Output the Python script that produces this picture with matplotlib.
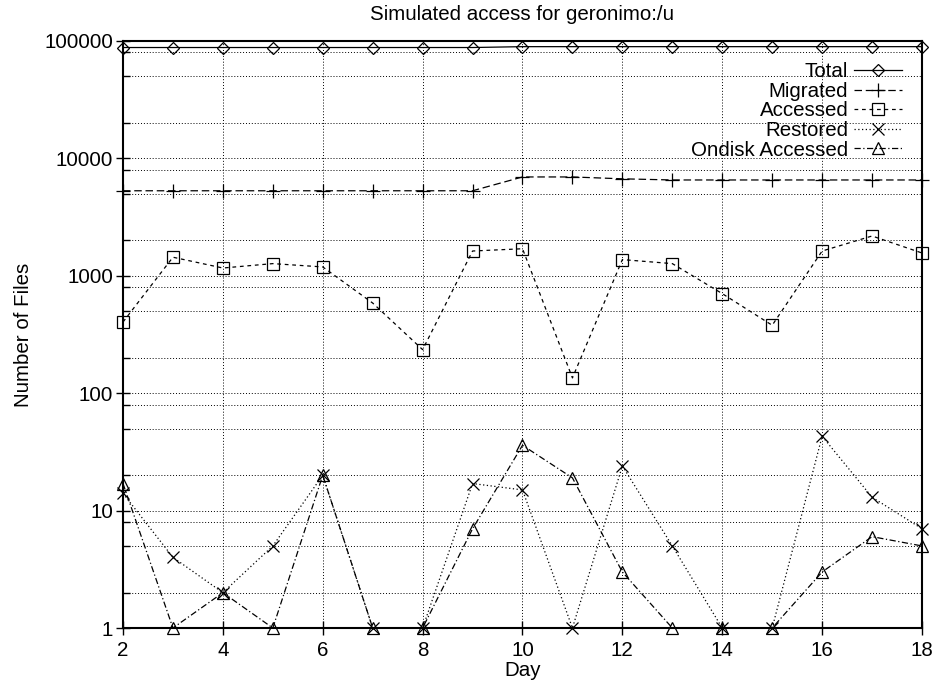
import matplotlib
matplotlib.use("Agg")
import matplotlib.pyplot as plt
from matplotlib.ticker import FixedLocator, NullFormatter, FixedFormatter

plt.rcParams['font.family'] = ['Liberation Sans', 'DejaVu Sans']

# data
days = list(range(2, 19))
total = [88000, 88000, 88000, 88000, 88000, 88000, 88000, 88000,
         89500, 89500, 89500, 89500, 89500, 89500, 89500, 89500, 89500]
migrated = [5300, 5300, 5300, 5300, 5300, 5300, 5300, 5300,
            6950, 6950, 6700, 6550, 6550, 6550, 6550, 6550, 6550]
accessed = [404, 1440, 1165, 1270, 1190, 586, 235, 1626,
            1700, 135, 1374, 1270, 705, 379, 1626, 2183, 1564]
restored = [14, 4, 2, 5, 20, 1, 1, 17, 15, 1, 24, 5, 1, 1, 43, 13, 7]
ondisk = [17, 1, 2, 1, 20, 1, 1, 7, 36, 19, 3, 1, 1, 1, 3, 6, 5]

fs = 14.8

fig = plt.figure(figsize=(9.37, 6.83), dpi=100)
ax = fig.add_axes([123/937, 1 - 628/683, (922 - 123)/937, (628 - 41)/683])

kw = dict(color='black', lw=0.9, mfc='none', mew=0.9, clip_on=False)
ax.plot(days, total, marker='D', ms=6.5, ls='-', label='Total', **kw)
ax.plot(days, migrated, marker='+', ms=10, ls=(0, (6, 3)), label='Migrated', **kw)
ax.plot(days, accessed, marker='s', ms=8, ls=(0, (3, 3)), label='Accessed', **kw)
ax.plot(days, restored, marker='x', ms=8, ls=(0, (1, 2)), label='Restored', **kw)
ax.plot(days, ondisk, marker='^', ms=8, ls=(0, (5, 2, 1, 2)), label='Ondisk Accessed', **kw)

ax.set_yscale('log')
ax.set_ylim(1, 100000)
ax.set_xlim(2, 18)

ax.yaxis.set_major_locator(FixedLocator([1, 10, 100, 1000, 10000, 100000]))
ax.yaxis.set_major_formatter(FixedFormatter(['1', '10', '100', '1000', '10000', '100000']))
minors = [m * 10 ** k for k in range(5) for m in (2, 5, 8)]
ax.yaxis.set_minor_locator(FixedLocator(minors))
ax.yaxis.set_minor_formatter(NullFormatter())
ax.set_xticks(range(2, 19, 2))

ax.grid(True, which='both', axis='y', ls=(0, (1, 2)), color='black', lw=0.7)
ax.grid(True, which='major', axis='x', ls=(0, (1, 2)), color='black', lw=0.7)

ax.tick_params(axis='both', which='major', direction='inout', length=10, width=1,
               labelsize=fs, top=False, right=False)
ax.tick_params(axis='y', which='major', pad=2)
ax.tick_params(axis='x', which='major', pad=4)
ax.tick_params(axis='y', which='minor', direction='in', length=5, width=1)
for s in ax.spines.values():
    s.set_linewidth(1.5)

ax.set_title('Simulated access for geronimo:/u', fontsize=fs, pad=15)
ax.set_xlabel('Day', fontsize=fs, labelpad=1)
ax.set_ylabel('Number of Files', fontsize=fs, labelpad=8)

ax.legend(loc='upper right', bbox_to_anchor=(0.99, 0.985), frameon=False,
          markerfirst=False, numpoints=1, fontsize=fs, handlelength=2.3,
          labelspacing=0.03, handletextpad=0.3, borderaxespad=0.2)
for t in ax.get_legend().get_texts():
    t.set_ha('right')
ax.get_legend()._legend_box.align = 'right'

fig.savefig('out.png', dpi=100)
